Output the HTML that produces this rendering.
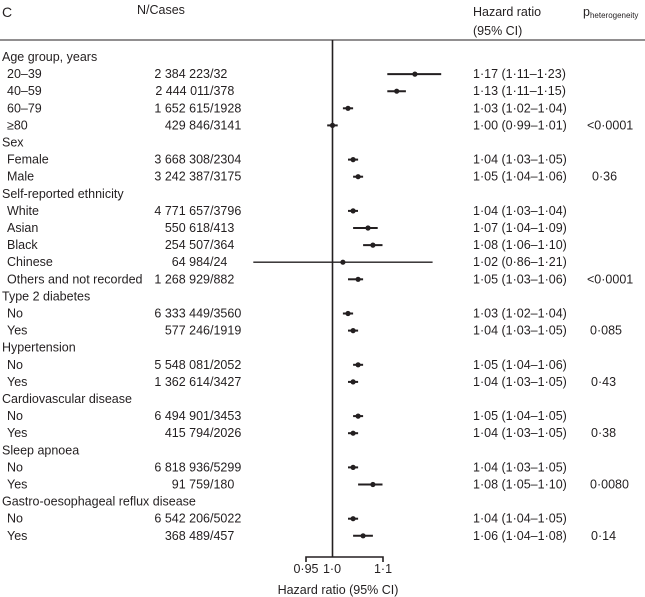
<!DOCTYPE html>
<html><head><meta charset="utf-8"><style>
html,body{margin:0;padding:0;background:#fff;}
svg{display:block;font-family:"Liberation Sans",sans-serif;font-size:12.5px;fill:#231f20;}
text{dominant-baseline:central;}
.e{text-anchor:end}
</style></head><body>
<svg width="645" height="597" viewBox="0 0 645 597" xmlns="http://www.w3.org/2000/svg">
<text x="2" y="12" font-size="14">C</text>
<text x="137" y="10">N/Cases</text>
<text x="473" y="12">Hazard ratio</text>
<text x="473" y="31">(95% CI)</text>
<text x="583" y="12">p<tspan font-size="8" dy="3">heterogeneity</tspan></text>
<line x1="0" y1="40" x2="645" y2="40" stroke="#231f20" stroke-width="1"/>
<line x1="332.5" y1="40" x2="332.5" y2="557" stroke="#231f20" stroke-width="1.6"/>
<path d="M306 562 V557 H383 V562" fill="none" stroke="#231f20" stroke-width="1.6"/>
<text x="306" y="569" text-anchor="middle">0·95</text>
<text x="332" y="569" text-anchor="middle">1·0</text>
<text x="383" y="569" text-anchor="middle">1·1</text>
<text x="338" y="590" text-anchor="middle">Hazard ratio (95% CI)</text>

<g>
<text x="2" y="57">Age group, years</text>
<text x="7" y="74.1">20–39</text><text x="210" y="74.1" class="e">2 384 223</text><text x="210" y="74.1">/32</text><text x="473" y="74.1">1·17 (1·11–1·23)</text>
<text x="7" y="91.2">40–59</text><text x="210" y="91.2" class="e">2 444 011</text><text x="210" y="91.2">/378</text><text x="473" y="91.2">1·13 (1·11–1·15)</text>
<text x="7" y="108.3">60–79</text><text x="210" y="108.3" class="e">1 652 615</text><text x="210" y="108.3">/1928</text><text x="473" y="108.3">1·03 (1·02–1·04)</text>
<text x="7" y="125.4">≥80</text><text x="210" y="125.4" class="e">429 846</text><text x="210" y="125.4">/3141</text><text x="473" y="125.4">1·00 (0·99–1·01)</text><text x="587" y="125.4">&lt;0·0001</text>
<text x="2" y="142.5">Sex</text>
<text x="7" y="159.6">Female</text><text x="210" y="159.6" class="e">3 668 308</text><text x="210" y="159.6">/2304</text><text x="473" y="159.6">1·04 (1·03–1·05)</text>
<text x="7" y="176.7">Male</text><text x="210" y="176.7" class="e">3 242 387</text><text x="210" y="176.7">/3175</text><text x="473" y="176.7">1·05 (1·04–1·06)</text><text x="592" y="176.7">0·36</text>
<text x="2" y="193.8">Self-reported ethnicity</text>
<text x="7" y="210.9">White</text><text x="210" y="210.9" class="e">4 771 657</text><text x="210" y="210.9">/3796</text><text x="473" y="210.9">1·04 (1·03–1·04)</text>
<text x="7" y="228">Asian</text><text x="210" y="228" class="e">550 618</text><text x="210" y="228">/413</text><text x="473" y="228">1·07 (1·04–1·09)</text>
<text x="7" y="245.1">Black</text><text x="210" y="245.1" class="e">254 507</text><text x="210" y="245.1">/364</text><text x="473" y="245.1">1·08 (1·06–1·10)</text>
<text x="7" y="262.2">Chinese</text><text x="210" y="262.2" class="e">64 984</text><text x="210" y="262.2">/24</text><text x="473" y="262.2">1·02 (0·86–1·21)</text>
<text x="7" y="279.3">Others and not recorded</text><text x="210" y="279.3" class="e">1 268 929</text><text x="210" y="279.3">/882</text><text x="473" y="279.3">1·05 (1·03–1·06)</text><text x="587" y="279.3">&lt;0·0001</text>
<text x="2" y="296.4">Type 2 diabetes</text>
<text x="7" y="313.5">No</text><text x="210" y="313.5" class="e">6 333 449</text><text x="210" y="313.5">/3560</text><text x="473" y="313.5">1·03 (1·02–1·04)</text>
<text x="7" y="330.6">Yes</text><text x="210" y="330.6" class="e">577 246</text><text x="210" y="330.6">/1919</text><text x="473" y="330.6">1·04 (1·03–1·05)</text><text x="590" y="330.6">0·085</text>
<text x="2" y="347.7">Hypertension</text>
<text x="7" y="364.8">No</text><text x="210" y="364.8" class="e">5 548 081</text><text x="210" y="364.8">/2052</text><text x="473" y="364.8">1·05 (1·04–1·06)</text>
<text x="7" y="381.9">Yes</text><text x="210" y="381.9" class="e">1 362 614</text><text x="210" y="381.9">/3427</text><text x="473" y="381.9">1·04 (1·03–1·05)</text><text x="591" y="381.9">0·43</text>
<text x="2" y="399">Cardiovascular disease</text>
<text x="7" y="416.1">No</text><text x="210" y="416.1" class="e">6 494 901</text><text x="210" y="416.1">/3453</text><text x="473" y="416.1">1·05 (1·04–1·05)</text>
<text x="7" y="433.2">Yes</text><text x="210" y="433.2" class="e">415 794</text><text x="210" y="433.2">/2026</text><text x="473" y="433.2">1·04 (1·03–1·05)</text><text x="591" y="433.2">0·38</text>
<text x="2" y="450.3">Sleep apnoea</text>
<text x="7" y="467.4">No</text><text x="210" y="467.4" class="e">6 818 936</text><text x="210" y="467.4">/5299</text><text x="473" y="467.4">1·04 (1·03–1·05)</text>
<text x="7" y="484.5">Yes</text><text x="210" y="484.5" class="e">91 759</text><text x="210" y="484.5">/180</text><text x="473" y="484.5">1·08 (1·05–1·10)</text><text x="590" y="484.5">0·0080</text>
<text x="2" y="501.6">Gastro-oesophageal reflux disease</text>
<text x="7" y="518.7">No</text><text x="210" y="518.7" class="e">6 542 206</text><text x="210" y="518.7">/5022</text><text x="473" y="518.7">1·04 (1·04–1·05)</text>
<text x="7" y="535.8">Yes</text><text x="210" y="535.8" class="e">368 489</text><text x="210" y="535.8">/457</text><text x="473" y="535.8">1·06 (1·04–1·08)</text><text x="591" y="535.8">0·14</text>
</g>

<g stroke="#231f20" stroke-width="2">
<line x1="387.3" y1="74.1" x2="441.2" y2="74.1"/>
<line x1="387.3" y1="91.2" x2="405.9" y2="91.2"/>
<line x1="342.9" y1="108.3" x2="353.1" y2="108.3"/>
<line x1="327.2" y1="125.4" x2="337.7" y2="125.4"/>
<line x1="348" y1="159.6" x2="358.1" y2="159.6"/>
<line x1="353.1" y1="176.7" x2="363.1" y2="176.7"/>
<line x1="348" y1="210.9" x2="358" y2="210.9"/>
<line x1="353.1" y1="228" x2="377.7" y2="228"/>
<line x1="363.1" y1="245.1" x2="382.5" y2="245.1"/>
<line x1="253.3" y1="262.2" x2="432.6" y2="262.2" stroke-width="1.4"/>
<line x1="348" y1="279.3" x2="363.1" y2="279.3"/>
<line x1="342.9" y1="313.5" x2="353.1" y2="313.5"/>
<line x1="348" y1="330.6" x2="358.1" y2="330.6"/>
<line x1="353.1" y1="364.8" x2="363.1" y2="364.8"/>
<line x1="348" y1="381.9" x2="358.1" y2="381.9"/>
<line x1="353.1" y1="416.1" x2="363.1" y2="416.1"/>
<line x1="348" y1="433.2" x2="358.1" y2="433.2"/>
<line x1="348" y1="467.4" x2="358.1" y2="467.4"/>
<line x1="358.1" y1="484.5" x2="382.5" y2="484.5"/>
<line x1="348" y1="518.7" x2="358.1" y2="518.7"/>
<line x1="353.1" y1="535.8" x2="372.9" y2="535.8"/>
</g>
<g fill="#231f20">
<circle cx="414.9" cy="74.1" r="2.6"/>
<circle cx="396.7" cy="91.2" r="2.6"/>
<circle cx="348" cy="108.3" r="2.6"/>
<circle cx="332.5" cy="125.4" r="2.6"/>
<circle cx="353.1" cy="159.6" r="2.6"/>
<circle cx="358.1" cy="176.7" r="2.6"/>
<circle cx="353.1" cy="210.9" r="2.6"/>
<circle cx="368" cy="228" r="2.6"/>
<circle cx="372.9" cy="245.1" r="2.6"/>
<circle cx="342.9" cy="262.2" r="2.6"/>
<circle cx="358.1" cy="279.3" r="2.6"/>
<circle cx="348" cy="313.5" r="2.6"/>
<circle cx="353.1" cy="330.6" r="2.6"/>
<circle cx="358.1" cy="364.8" r="2.6"/>
<circle cx="353.1" cy="381.9" r="2.6"/>
<circle cx="358.1" cy="416.1" r="2.6"/>
<circle cx="353.1" cy="433.2" r="2.6"/>
<circle cx="353.1" cy="467.4" r="2.6"/>
<circle cx="372.9" cy="484.5" r="2.6"/>
<circle cx="353.1" cy="518.7" r="2.6"/>
<circle cx="363.1" cy="535.8" r="2.6"/>
</g>
</svg>
</body></html>
